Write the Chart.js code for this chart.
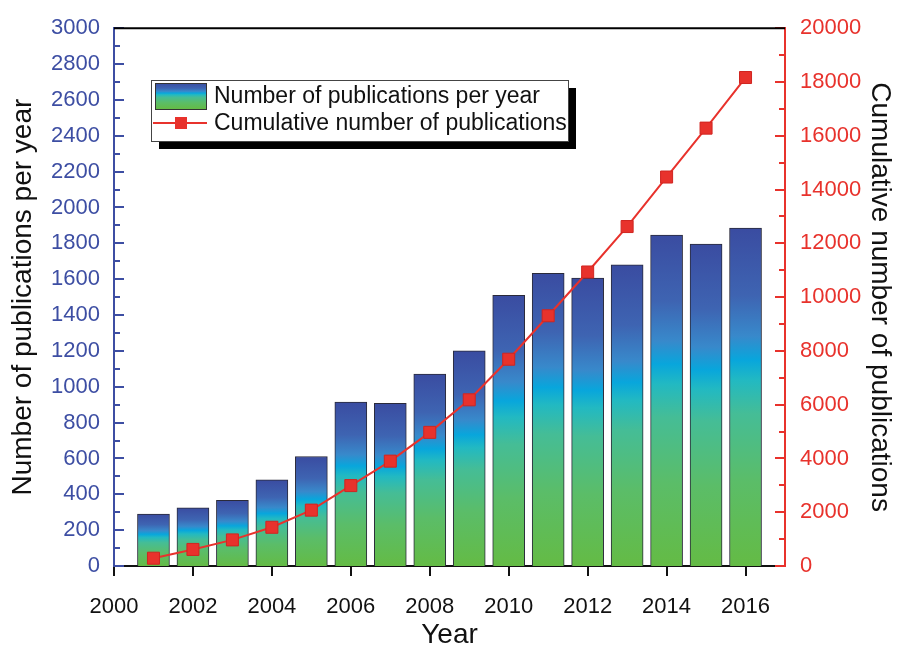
<!DOCTYPE html>
<html>
<head>
<meta charset="utf-8">
<script src="https://cdn.jsdelivr.net/npm/chart.js@4/dist/chart.umd.min.js"></script>
<style>
  body { margin: 0; background: #fff; }
  #wrap { width: 898px; height: 649px; }
</style>
</head>
<body>
<div id="wrap"><canvas id="pubChart" width="898" height="649"></canvas></div>
<script>
// Dados
const anos = [2001, 2002, 2003, 2004, 2005, 2006, 2007, 2008, 2009, 2010, 2011, 2012, 2013, 2014, 2015, 2016];
const porAno = [290, 325, 367, 480, 611, 915, 908, 1070, 1200, 1510, 1633, 1606, 1680, 1846, 1796, 1885];
const acumulado = [290, 616, 971, 1440, 2078, 2990, 3900, 4970, 6180, 7690, 9306, 10934, 12624, 14465, 16284, 18166];

const labelBarras = 'Number of publications per year';
const labelLinha = 'Cumulative number of publications';

const AZUL = '#3d4ea3';
const VERMELHO = '#e8322c';
const FONTE = '"Liberation Sans", Arial, sans-serif';

// Paradas do degradê das barras (0 = base verde, 1 = topo azul)
const BAR_STOPS = [
    [0, '#64bb45'],
    [0.25, '#5bbd68'],
    [0.45, '#45bd96'],
    [0.55, '#22b9c2'],
    [0.61, '#08a6dc'],
    [0.68, '#3889cb'],
    [0.8, '#3e64b2'],
    [1, '#3a4ca1']
];

function barFill(ctx) {
    const chart = ctx.chart;
    if (!chart.chartArea || ctx.type !== 'data') return BAR_STOPS[0][1];
    const y = chart.scales.y;
    const base = y.getPixelForValue(0);
    const top = y.getPixelForValue(ctx.parsed.y);
    const g = chart.ctx.createLinearGradient(0, base, 0, top);
    BAR_STOPS.forEach(([p, c]) => g.addColorStop(p, c));
    return g;
}

// Ticks internos nos eixos Y + borda superior
const ticksInternos = {
    id: 'ticksInternos',
    afterDatasetsDraw(chart) {
        const { ctx, chartArea } = chart;
        const y = chart.scales.y, y1 = chart.scales.y1;
        ctx.save();
        ctx.lineWidth = 2;

        ctx.strokeStyle = AZUL;
        for (let v = y.min; v <= y.max; v += 100) {
            const py = Math.round(y.getPixelForValue(v));
            const len = v % 200 === 0 ? 10 : 6;
            ctx.beginPath();
            ctx.moveTo(chartArea.left, py);
            ctx.lineTo(chartArea.left + len, py);
            ctx.stroke();
        }

        ctx.strokeStyle = VERMELHO;
        for (let v = y1.min; v <= y1.max; v += 1000) {
            const py = Math.round(y1.getPixelForValue(v));
            const len = v % 2000 === 0 ? 10 : 6;
            ctx.beginPath();
            ctx.moveTo(chartArea.right, py);
            ctx.lineTo(chartArea.right - len, py);
            ctx.stroke();
        }

        ctx.strokeStyle = '#000';
        ctx.beginPath();
        ctx.moveTo(chartArea.left, chartArea.top);
        ctx.lineTo(chartArea.right, chartArea.top);
        ctx.stroke();
        ctx.restore();
    }
};

// Legenda com caixa e sombra preta
const legendaCaixa = {
    id: 'legendaCaixa',
    afterDraw(chart) {
        const ctx = chart.ctx;
        const ds = chart.data.datasets;
        const bx = 151, by = 80, bw = 417, bh = 61;
        ctx.save();
        ctx.fillStyle = '#000';
        ctx.fillRect(bx + 8, by + 8, bw, bh);
        ctx.fillStyle = '#fff';
        ctx.fillRect(bx, by, bw, bh);
        ctx.strokeStyle = '#444';
        ctx.lineWidth = 1;
        ctx.strokeRect(bx + 0.5, by + 0.5, bw, bh);

        // amostra da barra
        const g = ctx.createLinearGradient(0, by + 29, 0, by + 3);
        BAR_STOPS.forEach(([p, c]) => g.addColorStop(p, c));
        ctx.fillStyle = g;
        ctx.fillRect(bx + 4, by + 3, 51, 26);
        ctx.strokeStyle = '#333';
        ctx.strokeRect(bx + 4.5, by + 3.5, 51, 26);

        // amostra da linha
        const ly = by + 43;
        ctx.strokeStyle = VERMELHO;
        ctx.lineWidth = 2;
        ctx.beginPath();
        ctx.moveTo(bx + 2, ly);
        ctx.lineTo(bx + 56, ly);
        ctx.stroke();
        ctx.fillStyle = VERMELHO;
        ctx.fillRect(bx + 24, ly - 6, 12, 12);

        ctx.fillStyle = '#111';
        ctx.font = '23px ' + FONTE;
        ctx.textBaseline = 'middle';
        ctx.fillText(ds[0].label, bx + 63, by + 17);
        ctx.fillText(ds[1].label, bx + 63, ly + 1);
        ctx.restore();
    }
};

const semSeparador = v => String(v);

new Chart(document.getElementById('pubChart'), {
    type: 'bar',
    data: {
        datasets: [{
            type: 'bar',
            label: labelBarras,
            data: anos.map((a, i) => ({ x: a, y: porAno[i] })),
            backgroundColor: barFill,
            borderColor: '#2a2a3a',
            borderWidth: 1,
            borderSkipped: 'bottom',
            barThickness: 32,
            yAxisID: 'y',
            order: 1
        }, {
            type: 'line',
            label: labelLinha,
            data: anos.map((a, i) => ({ x: a, y: acumulado[i] })),
            borderColor: VERMELHO,
            borderWidth: 2,
            pointStyle: 'rect',
            pointRadius: 8.5,
            pointBackgroundColor: VERMELHO,
            pointBorderColor: '#d02520',
            pointBorderWidth: 1,
            tension: 0,
            yAxisID: 'y1',
            order: 0
        }]
    },
    options: {
        responsive: false,
        animation: false,
        layout: { padding: { top: 24, left: 0, right: 0, bottom: 0 } },
        plugins: { legend: { display: false }, tooltip: { enabled: false } },
        scales: {
            x: {
                type: 'linear',
                min: 2000,
                max: 2017,
                offset: false,
                afterFit: s => { s.height = 83; },
                ticks: { stepSize: 2, includeBounds: false, color: '#111', padding: 18,
                         font: { family: FONTE, size: 22 }, maxRotation: 0, callback: semSeparador },
                grid: { drawOnChartArea: false, offset: false, tickLength: 10, color: '#111', lineWidth: 2 },
                border: { color: '#111', width: 2 },
                title: { display: true, text: 'Year', color: '#111',
                         font: { family: FONTE, size: 28, lineHeight: 1 }, padding: { top: 0, bottom: 0 } }
            },
            y: {
                position: 'left',
                min: 0,
                max: 3000,
                afterFit: s => { s.width = 114; },
                ticks: { stepSize: 200, color: AZUL, padding: 14, font: { family: FONTE, size: 22 },
                         callback: semSeparador },
                grid: { display: false, drawTicks: false },
                border: { color: AZUL, width: 2 },
                title: { display: true, text: labelBarras, color: '#111',
                         font: { family: FONTE, size: 28, lineHeight: 1 }, padding: { top: 9, bottom: 0 } }
            },
            y1: {
                position: 'right',
                min: 0,
                max: 20000,
                afterFit: s => { s.width = 113; },
                ticks: { stepSize: 2000, color: VERMELHO, padding: 15, font: { family: FONTE, size: 22 },
                         callback: semSeparador },
                grid: { display: false, drawTicks: false },
                border: { color: VERMELHO, width: 2 },
                title: { display: true, text: labelLinha, color: '#111',
                         font: { family: FONTE, size: 28, lineHeight: 1 }, padding: { top: 4, bottom: 0 } }
            }
        }
    },
    plugins: [ticksInternos, legendaCaixa]
});
</script>
</body>
</html>
